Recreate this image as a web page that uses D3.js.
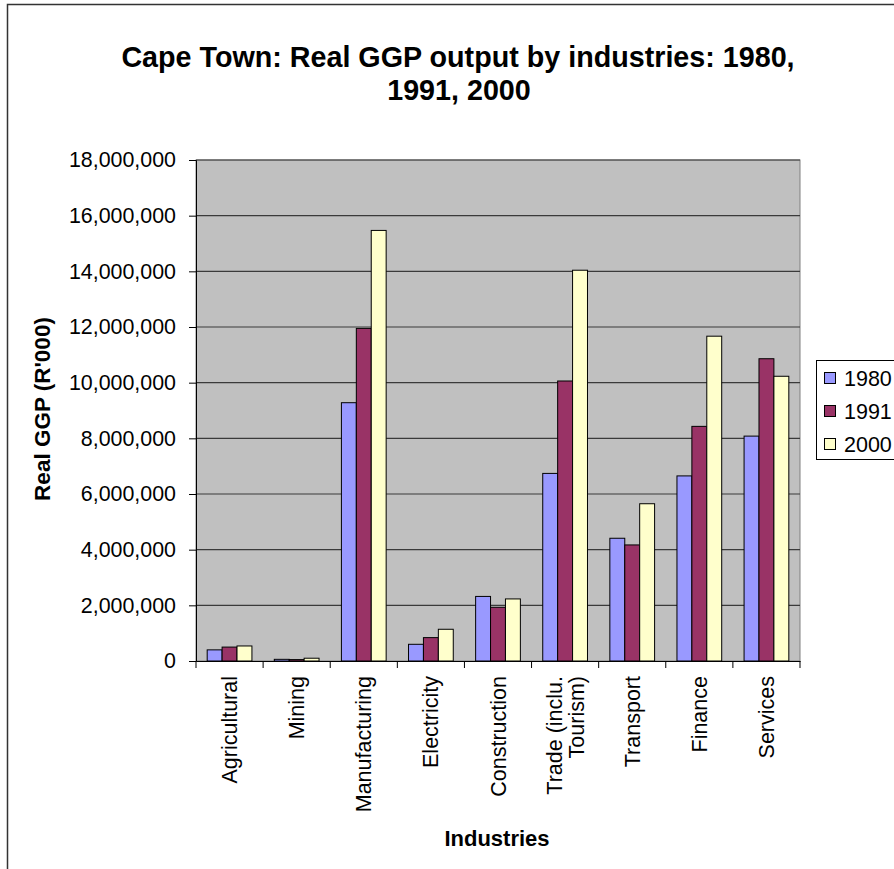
<!DOCTYPE html>
<html>
<head>
<meta charset="utf-8">
<script src="https://cdn.jsdelivr.net/npm/d3@7"></script>
<style>
  body { margin: 0; background: #fff; }
  text { font-family: "Liberation Sans", Arial, sans-serif; }
</style>
</head>
<body>
<svg id="chart" width="894" height="869"></svg>
<script>
// Data
const industries = ["Agricultural", "Mining", "Manufacturing", "Electricity", "Construction",
  "Trade (inclu. Tourism)", "Transport", "Finance", "Services"];
const years = ["1980", "1991", "2000"];
const gdp1980 = [400000, 60000, 9280000, 600000, 2320000, 6740000, 4410000, 6650000, 8080000];
const gdp1991 = [500000, 50000, 11950000, 840000, 1930000, 10060000, 4170000, 8430000, 10860000];
const gdp2000 = [540000, 100000, 15470000, 1140000, 2230000, 14040000, 5650000, 11670000, 10230000];
const yTicks = [0, 2000000, 4000000, 6000000, 8000000, 10000000, 12000000, 14000000, 16000000, 18000000];
const colors = ["#9999FF", "#993366", "#FFFFCC"];

const series = [gdp1980, gdp1991, gdp2000];

const svg = d3.select("#chart");

// outer chart frame (runs off the right and bottom edges)
svg.append("rect")
  .attr("x", 7.5).attr("y", 4.5)
  .attr("width", 920).attr("height", 900)
  .attr("fill", "#fff")
  .attr("stroke", "#333").attr("stroke-width", 1.5);

const plot = { left: 196, right: 800, top: 160, bottom: 661 };

const x0 = d3.scaleBand()
  .domain(industries)
  .range([plot.left, plot.right])
  .padding(0);

const x1 = d3.scaleBand()
  .domain(years)
  .range([0, x0.bandwidth()])
  .paddingInner(0)
  .paddingOuter(0.75);

const y = d3.scaleLinear()
  .domain([0, 18000000])
  .range([plot.bottom, plot.top]);

// plot area
svg.append("rect")
  .attr("x", plot.left).attr("y", plot.top)
  .attr("width", plot.right - plot.left).attr("height", plot.bottom - plot.top)
  .attr("fill", "#C0C0C0")
  .attr("stroke", "#808080");

// gridlines
svg.append("g")
  .selectAll("line")
  .data(yTicks.slice(1))
  .enter()
  .append("line")
  .attr("x1", plot.left).attr("x2", plot.right)
  .attr("y1", d => y(d)).attr("y2", d => y(d))
  .attr("stroke", "#3a3a3a")
  .attr("stroke-width", 1.2);

// bars
years.forEach((yr, i) => {
  svg.append("g")
    .selectAll("rect")
    .data(series[i])
    .enter()
    .append("rect")
    .attr("x", (d, j) => x0(industries[j]) + x1(yr))
    .attr("y", d => y(d))
    .attr("width", x1.bandwidth())
    .attr("height", d => y(0) - y(d))
    .attr("fill", colors[i])
    .attr("stroke", "#000")
    .attr("stroke-width", 1);
});

// y axis
const yAxis = d3.axisLeft(y)
  .tickValues(yTicks)
  .tickFormat(d3.format(","))
  .tickSize(7)
  .tickPadding(13);

svg.append("g")
  .attr("transform", `translate(${plot.left}, 0)`)
  .call(yAxis)
  .call(g => g.select(".domain").attr("stroke", "#000"))
  .call(g => g.selectAll("text")
    .attr("font-size", 21.4)
    .attr("font-family", "Liberation Sans, Arial, sans-serif")
    .attr("fill", "#000"));

// x axis
const xAxis = d3.axisBottom(x0).tickSize(0).tickFormat("");
const xg = svg.append("g")
  .attr("transform", `translate(0, ${plot.bottom})`)
  .call(xAxis);
xg.select(".domain").attr("stroke", "#000");

// category boundary ticks
xg.append("g")
  .selectAll("line")
  .data(industries.concat([null]))
  .enter()
  .append("line")
  .attr("x1", (d, j) => plot.left + j * x0.step())
  .attr("x2", (d, j) => plot.left + j * x0.step())
  .attr("y1", 0).attr("y2", 7)
  .attr("stroke", "#000");

// rotated category labels
const labelLines = {
  "Trade (inclu. Tourism)": ["Trade (inclu.", "Tourism)"]
};
industries.forEach(name => {
  const lines = labelLines[name] || [name];
  const cx = x0(name) + x0.bandwidth() / 2;
  const t = svg.append("text")
    .attr("transform", `translate(${cx}, ${plot.bottom + 15}) rotate(-90)`)
    .attr("text-anchor", "end")
    .attr("font-size", 21.5)
    .attr("fill", "#000");
  lines.forEach((ln, k) => {
    t.append("tspan")
      .attr("x", 0)
      .attr("dy", k === 0 ? (lines.length === 1 ? 7.5 : -3) : 22)
      .text(ln);
  });
});

// titles
const title = svg.append("text")
  .attr("text-anchor", "middle")
  .attr("font-size", 28.7)
  .attr("font-weight", "bold")
  .attr("fill", "#000");
title.append("tspan").attr("x", 458).attr("y", 67)
  .text("Cape Town: Real GGP output by industries: 1980,");
title.append("tspan").attr("x", 459).attr("y", 100)
  .text("1991, 2000");

svg.append("text")
  .attr("transform", "translate(50, 409) rotate(-90)")
  .attr("text-anchor", "middle")
  .attr("font-size", 22.5)
  .attr("font-weight", "bold")
  .text("Real GGP (R'000)");

svg.append("text")
  .attr("x", 497).attr("y", 846)
  .attr("text-anchor", "middle")
  .attr("font-size", 22)
  .attr("font-weight", "bold")
  .text("Industries");

// legend
const legend = svg.append("g").attr("transform", "translate(816, 360)");
legend.append("rect")
  .attr("x", 0.5).attr("y", 0.5)
  .attr("width", 100).attr("height", 99)
  .attr("fill", "#fff")
  .attr("stroke", "#000");

const item = legend.selectAll(".item")
  .data(years)
  .enter()
  .append("g")
  .attr("class", "item")
  .attr("transform", (d, i) => `translate(0, ${18 + i * 33})`);

item.append("rect")
  .attr("x", 8.5).attr("y", -5.5)
  .attr("width", 11).attr("height", 11)
  .attr("fill", (d, i) => colors[i])
  .attr("stroke", "#000");

item.append("text")
  .attr("x", 28).attr("y", 7.5)
  .attr("font-size", 21.5)
  .text(d => d);
</script>
</body>
</html>
